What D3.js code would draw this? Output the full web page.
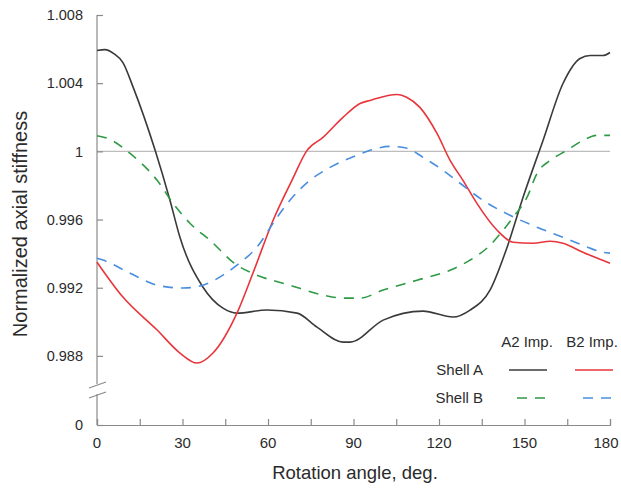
<!DOCTYPE html>
<html>
<head>
<meta charset="utf-8">
<script src="https://cdn.jsdelivr.net/npm/d3@7"></script>
<style>
  body { margin: 0; background: #fff; }
  text { font-family: "Liberation Sans", Arial, sans-serif; fill: #2b2b2b; }
</style>
</head>
<body>
<svg id="chart" width="621" height="488"></svg>
<script>
// rotation angle (deg) / normalized stiffness
var shellA_A2 = [[0,1.00592],[2.8,1.00597],[6,1.00572],[9.1,1.00521],[12.6,1.00380],[20.4,1.00006],[25.6,0.99713],
  [29.1,0.99496],[37.2,0.99203],[44.2,0.99080],[49.1,0.99051],[59.6,0.99069],[70.2,0.99051],[77.2,0.98969],
  [86.3,0.98881],[88.8,0.98881],[100.4,0.99010],[114.4,0.99063],[124.9,0.99028],[130.9,0.99069],[137.9,0.99186],
  [143.9,0.99438],[149.5,0.99731],[156.5,1.00064],[163.5,1.00398],[169.5,1.00545],[173,1.00562],[177.5,1.00562],[180,1.0058]];

var shellA_B2 = [[0,0.99350],[9.1,0.99145],[21.1,0.98952],[29.1,0.98817],[35.1,0.98758],[40.7,0.98817],[49.1,0.99051],
  [54.7,0.99285],[61.8,0.99596],[68.4,0.99830],[73.7,1.00006],[79.3,1.00082],[86.3,1.00199],[92.3,1.00281],
  [95.8,1.00299],[105.3,1.00334],[108.8,1.00316],[113.3,1.00258],[119.3,1.00105],[123.9,0.99947],[128.4,0.99830],
  [133.3,0.99695],[140.4,0.99537],[146,0.99467],[153,0.99461],[159,0.99473],[163.5,0.99461],[170.5,0.99408],[180,0.99344]];

var shellB_A2 = [[0,1.00092],[3.5,1.00078],[11.6,0.99988],[21.1,0.99830],[26.7,0.99695],[32.6,0.99578],[39.6,0.99479],
  [49.1,0.99332],[56.1,0.99274],[67.7,0.99215],[79.3,0.99157],[86.3,0.99139],[92.3,0.99139],[100.4,0.99186],
  [112.3,0.99244],[123.9,0.99303],[130.9,0.99362],[137.9,0.99449],[142.5,0.99537],[146,0.99613],[150.9,0.99731],
  [154.4,0.99871],[159,0.99947],[164.9,1.00006],[170.5,1.00064],[175.4,1.00094],[180,1.00094]];

var shellB_B2 = [[0,0.99373],[2.1,0.99362],[11.6,0.99285],[21.1,0.99215],[30.2,0.99198],[37.2,0.99215],[44.2,0.99274],
  [49.1,0.99332],[56.1,0.99438],[63.2,0.99613],[67.7,0.99713],[74.7,0.99830],[81.8,0.99906],[91.2,0.99977],
  [95.8,1.00006],[102.8,1.00029],[108.8,1.00018],[114.4,0.99965],[121.4,0.99889],[127.4,0.99813],[135.4,0.99713],
  [144.9,0.99625],[154.4,0.99555],[163.5,0.99496],[170.5,0.99449],[177.5,0.99408],[180,0.99403]];

var xTicks = [0, 15, 30, 45, 60, 75, 90, 105, 120, 135, 150, 165, 180];
var xLabels = [0, 30, 60, 90, 120, 150, 180];
var yTicks = [0, 0.988, 0.992, 0.996, 1, 1.004, 1.008];

var svg = d3.select("#chart");

var x = d3.scaleLinear().domain([0, 180]).range([97, 610]);
// broken axis: 0 sits below the break
var y = d3.scaleLinear().domain([0, 0.986, 1.008]).range([425, 390, 15]);

var axisColor = "#8a8a8a";

// reference line at 1
svg.append("line")
  .attr("x1", x(0)).attr("x2", x(180))
  .attr("y1", y(1)).attr("y2", y(1))
  .attr("stroke", "#bdbdbd").attr("stroke-width", 1.2);

// x axis
var xa = svg.append("g")
  .attr("transform", "translate(0," + y(0) + ")")
  .call(d3.axisBottom(x).tickValues(xTicks).tickSize(-6).tickFormat(""));
xa.select(".domain").attr("stroke", axisColor).attr("stroke-width", 1.2);
xa.selectAll(".tick line").attr("stroke", axisColor).attr("stroke-width", 1.2);

svg.append("g").selectAll("text")
  .data(xLabels)
  .enter().append("text")
  .attr("x", function(d){ return Math.min(x(d), 606); })
  .attr("y", 448)
  .attr("text-anchor", "middle")
  .style("font-size", "15px")
  .text(function(d){ return d; });

// y axis
var ya = svg.append("g")
  .attr("transform", "translate(" + x(0) + ",0)")
  .call(d3.axisLeft(y).tickValues(yTicks).tickSize(-6)
    .tickFormat(function(d){ return d === 0 ? "0" : d === 1 ? "1" : d3.format(".3f")(d); }));
ya.select(".domain").remove();
ya.selectAll(".tick line").attr("stroke", axisColor).attr("stroke-width", 1.2);
ya.selectAll(".tick text")
  .attr("x", -14)
  .style("font-size", "14.5px")
  .style("font-family", "'Liberation Sans', Arial, sans-serif")
  .attr("fill", "#2b2b2b");

// axis line with break
svg.append("line").attr("x1", x(0)).attr("x2", x(0)).attr("y1", y(1.008)).attr("y2", 384)
  .attr("stroke", axisColor).attr("stroke-width", 1.2);
svg.append("line").attr("x1", x(0)).attr("x2", x(0)).attr("y1", 394).attr("y2", y(0))
  .attr("stroke", axisColor).attr("stroke-width", 1.2);
[0, 10].forEach(function(o){
  svg.append("line")
    .attr("x1", 89).attr("y1", 388 + o)
    .attr("x2", 106).attr("y2", 382 + o)
    .attr("stroke", axisColor).attr("stroke-width", 1.2);
});

// axis titles
svg.append("text")
  .attr("x", 355).attr("y", 479)
  .attr("text-anchor", "middle")
  .style("font-size", "18.5px")
  .text("Rotation angle, deg.");

svg.append("text")
  .attr("transform", "translate(27,224) rotate(-90)")
  .attr("text-anchor", "middle")
  .style("font-size", "20px")
  .text("Normalized axial stiffness");

// curves
var line = d3.line()
  .x(function(d){ return x(d[0]); })
  .y(function(d){ return y(d[1]); })
  .curve(d3.curveMonotoneX);

var series = [
  { data: shellA_A2, color: "#3a3a3a", dash: null },
  { data: shellA_B2, color: "#e8353b", dash: null },
  { data: shellB_A2, color: "#2f9a45", dash: "10,8" },
  { data: shellB_B2, color: "#4a8ee0", dash: "10,8" }
];

svg.append("g").selectAll("path")
  .data(series)
  .enter().append("path")
  .attr("d", function(d){ return line(d.data); })
  .attr("fill", "none")
  .attr("stroke", function(d){ return d.color; })
  .attr("stroke-width", 1.6)
  .attr("stroke-dasharray", function(d){ return d.dash; });

// legend
var lg = svg.append("g").style("font-size", "15px");
lg.append("text").attr("x", 527).attr("y", 347).attr("text-anchor", "middle").text("A2 Imp.");
lg.append("text").attr("x", 592).attr("y", 347).attr("text-anchor", "middle").text("B2 Imp.");
lg.append("text").attr("x", 483).attr("y", 375).attr("text-anchor", "end").text("Shell A");
lg.append("text").attr("x", 483).attr("y", 403).attr("text-anchor", "end").text("Shell B");

var legendRows = [
  { x1: 509, x2: 547, y: 370, s: series[0] },
  { x1: 575, x2: 613, y: 370, s: series[1] },
  { x1: 517, x2: 547, y: 398, s: series[2] },
  { x1: 583, x2: 613, y: 398, s: series[3] }
];
lg.selectAll("line")
  .data(legendRows)
  .enter().append("line")
  .attr("x1", function(d){ return d.x1; })
  .attr("x2", function(d){ return d.x2; })
  .attr("y1", function(d){ return d.y; })
  .attr("y2", function(d){ return d.y; })
  .attr("stroke", function(d){ return d.s.color; })
  .attr("stroke-width", 1.6)
  .attr("stroke-dasharray", function(d){ return d.s.dash; });
</script>
</body>
</html>
